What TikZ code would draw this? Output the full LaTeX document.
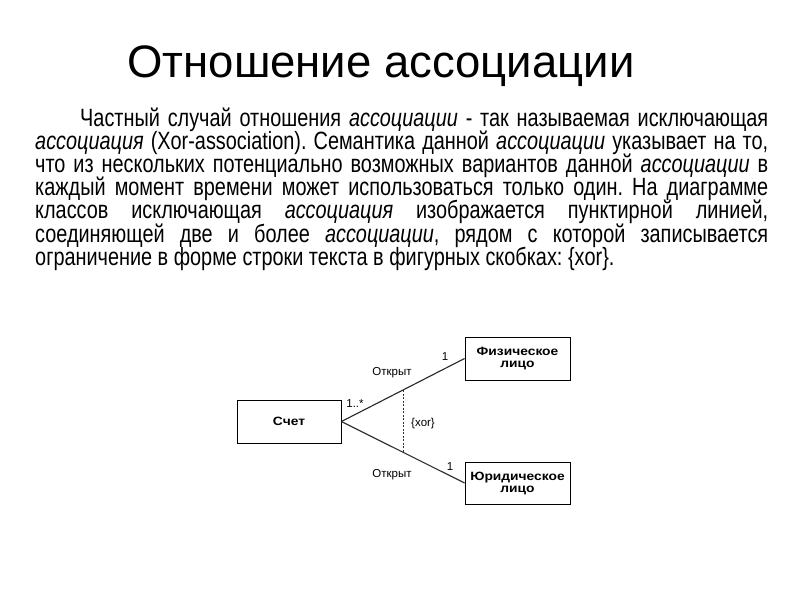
\documentclass[tikz,border=0pt]{standalone}
\usepackage{fontspec}
\setmainfont{Liberation Sans}
\newfontfamily\bodyfont[FakeStretch=0.795]{Liberation Sans}
\newfontfamily\boxfont[FakeStretch=1.15]{Liberation Sans}
\newfontfamily\diafont{Liberation Sans}
\frenchspacing
\begin{document}
\begin{tikzpicture}[x=1pt,y=-1pt,
  bodyline/.style={anchor=base west,inner sep=0pt,font=\bodyfont\fontsize{25}{26}\selectfont\frenchspacing},
  classbox/.style={draw=black,line width=0.9pt,inner sep=0pt,align=center,
    font=\boxfont\bfseries\fontsize{12}{12}\selectfont},
  lbl/.style={inner sep=0pt,font=\diafont\fontsize{11.5}{13}\selectfont},
  assoc/.style={line width=1.1pt,draw=black!85}]
\useasboundingbox (0,0) rectangle (800,600);
\node[anchor=base,inner sep=0pt,font=\fontsize{45.5}{50}\selectfont] (title) at (381,77) {Отношение ассоциации};
\node[bodyline] (l1) at (80,126.5) {\makebox[688pt][s]{Частный случай отношения \textit{ассоциации} - так называемая исключающая}};
\node[bodyline] (l2) at (35,149.6) {\makebox[733pt][s]{\textit{ассоциация} (Xor-association). Семантика данной \textit{ассоциации} указывает на то,}};
\node[bodyline] (l3) at (35,172.7) {\makebox[733pt][s]{что из нескольких потенциально возможных вариантов данной \textit{ассоциации} в}};
\node[bodyline] (l4) at (35,195.8) {\makebox[733pt][s]{каждый момент времени может использоваться только один. На диаграмме}};
\node[bodyline] (l5) at (35,218.9) {\makebox[733pt][s]{классов исключающая \textit{ассоциация} изображается пунктирной линией,}};
\node[bodyline] (l6) at (35,242) {\makebox[733pt][s]{соединяющей две и более \textit{ассоциации}, рядом с которой записывается}};
\node[bodyline] (l7) at (35,265) {ограничение в форме строки текста в фигурных скобках: \{xor\}.};

\node[classbox,minimum width=104pt,minimum height=43pt] (acc) at (289,421.5) {Счет};
\node[classbox,minimum width=105pt,minimum height=43pt] (phys) at (517.5,358.5) {Физическое\\лицо};
\node[classbox,minimum width=105pt,minimum height=42pt] (jur) at (517.5,483) {Юридическое\\лицо};

\draw[assoc] (acc.east) -- (phys.west) coordinate[pos=0.5] (d1);
\draw[assoc] (acc.east) -- (jur.west) coordinate[pos=0.5] (d2);
\draw[black!80,line width=0.8pt,dash pattern=on 2pt off 1.5pt] (d1) -- (d2);

\node[lbl] (m1) at (355,404) {1..*};
\node[lbl] (o1) at (392,373) {Открыт};
\node[lbl] (o2) at (392,475) {Открыт};
\node[lbl] (n1) at (445,357) {1};
\node[lbl] (n2) at (450,467) {1};
\node[lbl] (xor) at (423,424) {\{xor\}};
\end{tikzpicture}
\end{document}
